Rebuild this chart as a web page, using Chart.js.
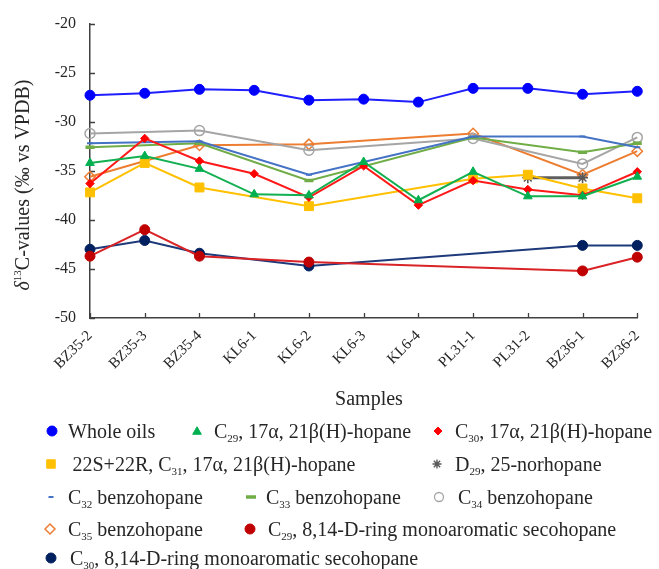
<!DOCTYPE html>
<html>
<head>
<meta charset="utf-8">
<script src="https://cdn.jsdelivr.net/npm/chart.js@4.4.1/dist/chart.umd.min.js"></script>
<style>
  html, body { margin: 0; padding: 0; background: #ffffff; }
  canvas { display: block; }
</style>
</head>
<body>
<canvas id="chart" width="659" height="569"></canvas>
<script>
// Oil samples along the x axis
const samples = ['BZ35-2', 'BZ35-3', 'BZ35-4', 'KL6-1', 'KL6-2', 'KL6-3', 'KL6-4', 'PL31-1', 'PL31-2', 'BZ36-1', 'BZ36-2'];

// δ13C values (‰ vs VPDB); null = not measured
const wholeOils    = [-27.3, -27.1, -26.7, -26.8, -27.8, -27.7, -28.0, -26.6, -26.6, -27.2, -26.9];
const c29Hopane    = [-34.2, -33.5, -34.8, -37.4, -37.5, -34.1, -38.0, -35.1, -37.6, -37.6, -35.6];
const c30Hopane    = [-36.3, -31.7, -34.0, -35.3, -37.7, -34.5, -38.5, -36.0, -36.9, -37.5, -35.1];
const c31Hopane    = [-37.2, -34.2, -36.7, null, -38.6, null, null, -35.8, -35.4, -36.8, -37.8];
const d29Norhopane = [null, null, null, null, null, null, null, null, -35.7, -35.7, null];
const c32Benzo     = [-32.2, null, -32.0, null, -35.4, null, null, -31.5, null, -31.5, -32.6];
const c33Benzo     = [-32.6, null, -32.2, null, -36.0, null, null, -31.6, null, -33.1, -32.2];
const c34Benzo     = [-31.2, null, -30.9, null, -32.9, null, null, -31.7, null, -34.3, -31.6];
const c35Benzo     = [-35.6, null, -32.4, null, -32.3, null, null, -31.2, null, -35.4, -33.0];
const c29Seco      = [-43.7, -41.0, -43.7, null, -44.3, null, null, null, null, -45.2, -43.8];
const c30Seco      = [-43.0, -42.1, -43.4, null, -44.7, null, null, null, null, -42.6, -42.6];

// Axis range and tick step
const yMin = -50, yMax = -20, yStep = 5;

// Series names (_{..} = subscript)
const seriesNames = [
  'Whole oils',
  'C_{29}, 17α, 21β(H)-hopane',
  'C_{30}, 17α, 21β(H)-hopane',
  '22S+22R, C_{31}, 17α, 21β(H)-hopane',
  'D_{29}, 25-norhopane',
  'C_{32} benzohopane',
  'C_{33} benzohopane',
  'C_{34} benzohopane',
  'C_{35} benzohopane',
  'C_{29}, 8,14-D-ring monoaromatic secohopane',
  'C_{30}, 8,14-D-ring monoaromatic secohopane'
];

const FONT = 'Liberation Serif';
const TEXT = '#262626';
const AXIS = '#404040';

function series(name, data, line, point, style, radius, opts) {
  return Object.assign({
    label: name,
    data: data,
    borderColor: line,
    borderWidth: 2,
    backgroundColor: point,
    pointBackgroundColor: point,
    pointBorderColor: point,
    pointStyle: style,
    pointRadius: radius,
    pointHoverRadius: radius,
    pointBorderWidth: 1,
    tension: 0,
    spanGaps: true,
    fill: false
  }, opts || {});
}

const datasets = [
  series(seriesNames[0], wholeOils, '#1f1fff', '#0000ff', 'circle', 5),
  series(seriesNames[1], c29Hopane, '#12b050', '#00b050', 'triangle', 5),
  series(seriesNames[2], c30Hopane, '#ff1a1a', '#ff0000', 'rectRot', 4.2),
  series(seriesNames[3], c31Hopane, '#ffc000', '#ffc000', 'rect', 6.3),
  series(seriesNames[4], d29Norhopane, '#5f5f5f', '#595959', 'star', 5.5, {borderWidth: 3, pointBorderWidth: 1.6}),
  series(seriesNames[5], c32Benzo, '#4472c4', '#4472c4', 'line', 3, {pointBorderWidth: 2}),
  series(seriesNames[6], c33Benzo, '#70ad47', '#70ad47', 'line', 4.5, {pointBorderWidth: 3.5}),
  series(seriesNames[7], c34Benzo, '#a5a5a5', 'rgba(255,255,255,0)', 'circle', 5, {pointBorderColor: '#a5a5a5', pointBorderWidth: 1.5}),
  series(seriesNames[8], c35Benzo, '#ed7d31', 'rgba(255,255,255,0)', 'rectRot', 5.2, {pointBorderColor: '#ed7d31', pointBorderWidth: 1.5}),
  series(seriesNames[9], c29Seco, '#d92326', '#c00000', 'circle', 5),
  series(seriesNames[10], c30Seco, '#1f3a7a', '#002060', 'circle', 5)
];

// Legend placement: marker centre (x, y) and text start tx
const legendSlots = [
  {x: 52,  y: 431, tx: 68},
  {x: 197, y: 431, tx: 214},
  {x: 438, y: 431, tx: 455},
  {x: 51,  y: 464, tx: 72.5},
  {x: 437, y: 464, tx: 455},
  {x: 51,  y: 497, tx: 68},
  {x: 251, y: 497, tx: 266},
  {x: 439, y: 497, tx: 458},
  {x: 50,  y: 529, tx: 68},
  {x: 250, y: 529, tx: 268},
  {x: 51,  y: 558, tx: 70}
];
// Legend marker sizes (radius, stroke width)
const legendMarks = [
  {r: 5, lw: 1}, {r: 5, lw: 1}, {r: 4, lw: 1}, {r: 6, lw: 1}, {r: 4.5, lw: 1.4},
  {r: 2.5, lw: 2}, {r: 5, lw: 3.5}, {r: 4.5, lw: 1.3}, {r: 5, lw: 1.5}, {r: 5, lw: 1}, {r: 5, lw: 1}
];

// ---- rich text helpers (subscript, superscript, italic) ----
function parseRich(str) {
  const out = [];
  const re = /_\{([^}]*)\}|\^\{([^}]*)\}|\*([^*]*)\*/g;
  let last = 0, m;
  while ((m = re.exec(str))) {
    if (m.index > last) out.push({t: str.slice(last, m.index), mode: 'n'});
    if (m[1] !== undefined) out.push({t: m[1], mode: 'sub'});
    else if (m[2] !== undefined) out.push({t: m[2], mode: 'sup'});
    else out.push({t: m[3], mode: 'it'});
    last = re.lastIndex;
  }
  if (last < str.length) out.push({t: str.slice(last), mode: 'n'});
  return out;
}
function segFont(mode, size) {
  if (mode === 'sub' || mode === 'sup') return Math.round(size * 0.56) + 'px "' + FONT + '"';
  if (mode === 'it') return 'italic ' + size + 'px "' + FONT + '"';
  return size + 'px "' + FONT + '"';
}
function richWidth(ctx, segs, size) {
  let w = 0;
  segs.forEach(s => { ctx.font = segFont(s.mode, size); w += ctx.measureText(s.t).width; });
  return w;
}
// draws text whose vertical middle sits at y
function drawRich(ctx, str, x, y, size, align) {
  const segs = parseRich(str);
  let cx = x;
  if (align === 'center') cx = x - richWidth(ctx, segs, size) / 2;
  const base = y + size * 0.33;
  ctx.textAlign = 'left';
  ctx.textBaseline = 'alphabetic';
  segs.forEach(s => {
    ctx.font = segFont(s.mode, size);
    const dy = s.mode === 'sub' ? size * 0.2 : (s.mode === 'sup' ? -size * 0.4 : 0);
    ctx.fillText(s.t, cx, base + dy);
    cx += ctx.measureText(s.t).width;
  });
}

function drawMarker(ctx, style, x, y, r, fill, stroke, lw) {
  ctx.save();
  ctx.fillStyle = fill;
  ctx.strokeStyle = stroke;
  ctx.lineWidth = lw;
  ctx.beginPath();
  if (style === 'circle') {
    ctx.arc(x, y, r, 0, Math.PI * 2);
    ctx.fill(); ctx.stroke();
  } else if (style === 'triangle') {
    for (let k = 0; k < 3; k++) {
      const a = k * 2 * Math.PI / 3;
      const px = x + Math.sin(a) * r, py = y - Math.cos(a) * r + r * 0.15;
      k ? ctx.lineTo(px, py) : ctx.moveTo(px, py);
    }
    ctx.closePath(); ctx.fill(); ctx.stroke();
  } else if (style === 'rectRot') {
    ctx.moveTo(x, y - r); ctx.lineTo(x + r, y); ctx.lineTo(x, y + r); ctx.lineTo(x - r, y);
    ctx.closePath(); ctx.fill(); ctx.stroke();
  } else if (style === 'rect') {
    const s = r * Math.SQRT1_2;
    ctx.rect(x - s, y - s, 2 * s, 2 * s);
    ctx.fill(); ctx.stroke();
  } else if (style === 'star') {
    for (let k = 0; k < 4; k++) {
      const a = k * Math.PI / 4;
      ctx.moveTo(x - Math.cos(a) * r, y - Math.sin(a) * r);
      ctx.lineTo(x + Math.cos(a) * r, y + Math.sin(a) * r);
    }
    ctx.stroke();
  } else if (style === 'line') {
    ctx.moveTo(x - r, y); ctx.lineTo(x + r, y);
    ctx.stroke();
  }
  ctx.restore();
}

// Inward-pointing tick marks, axis title texts and the legend block
const decorations = {
  id: 'decorations',
  beforeDatasetsDraw(chart) {
    const ctx = chart.ctx;
    const xs = chart.scales.x, ys = chart.scales.y;
    const area = chart.chartArea;
    ctx.save();
    ctx.strokeStyle = AXIS;
    ctx.lineWidth = 1.3;
    ctx.beginPath();
    ys.ticks.forEach(t => {
      const py = Math.round(ys.getPixelForValue(t.value)) + 0.5;
      ctx.moveTo(area.left, py); ctx.lineTo(area.left + 5, py);
    });
    samples.forEach((s, i) => {
      const px = Math.round(xs.getPixelForValue(i)) + 0.5;
      ctx.moveTo(px, area.bottom); ctx.lineTo(px, area.bottom - 5);
    });
    ctx.stroke();
    ctx.restore();
  },
  afterDraw(chart) {
    const ctx = chart.ctx;
    ctx.save();
    ctx.fillStyle = TEXT;
    // y axis title
    ctx.save();
    ctx.translate(22, 185);
    ctx.rotate(-Math.PI / 2);
    drawRich(ctx, '*δ*^{13}C-values (‰ vs VPDB)', 0, 0, 20, 'center');
    ctx.restore();
    // x axis title
    drawRich(ctx, 'Samples', 369, 398, 20, 'center');
    // legend
    chart.data.datasets.forEach((ds, i) => {
      const slot = legendSlots[i], mk = legendMarks[i];
      drawMarker(ctx, ds.pointStyle, slot.x, slot.y, mk.r,
        ds.pointBackgroundColor, ds.pointBorderColor, mk.lw);
      ctx.fillStyle = TEXT;
      drawRich(ctx, ds.label, slot.tx, slot.y, 20, 'left');
    });
    ctx.restore();
  }
};

new Chart(document.getElementById('chart'), {
  type: 'line',
  data: { labels: samples, datasets: datasets },
  options: {
    responsive: false,
    animation: false,
    devicePixelRatio: 1,
    layout: { padding: { top: 16, right: 16, left: 0, bottom: 0 } },
    plugins: { legend: { display: false }, tooltip: { enabled: false } },
    events: [],
    scales: {
      x: {
        type: 'category',
        offset: false,
        grid: { display: true, drawOnChartArea: false, drawTicks: false },
        border: { display: true, color: AXIS, width: 1.5 },
        ticks: {
          autoSkip: false,
          maxRotation: 45,
          minRotation: 45,
          padding: 9,
          color: TEXT,
          font: { family: FONT, size: 15 }
        },
        afterFit(scale) { scale.height = 569 - 318; }
      },
      y: {
        min: yMin,
        max: yMax,
        grid: { display: true, drawOnChartArea: false, drawTicks: false },
        border: { display: true, color: AXIS, width: 1.5 },
        ticks: {
          stepSize: yStep,
          padding: 14,
          color: TEXT,
          font: { family: FONT, size: 16 }
        },
        afterFit(scale) { scale.width = 90; }
      }
    }
  },
  plugins: [decorations]
});
</script>
</body>
</html>
